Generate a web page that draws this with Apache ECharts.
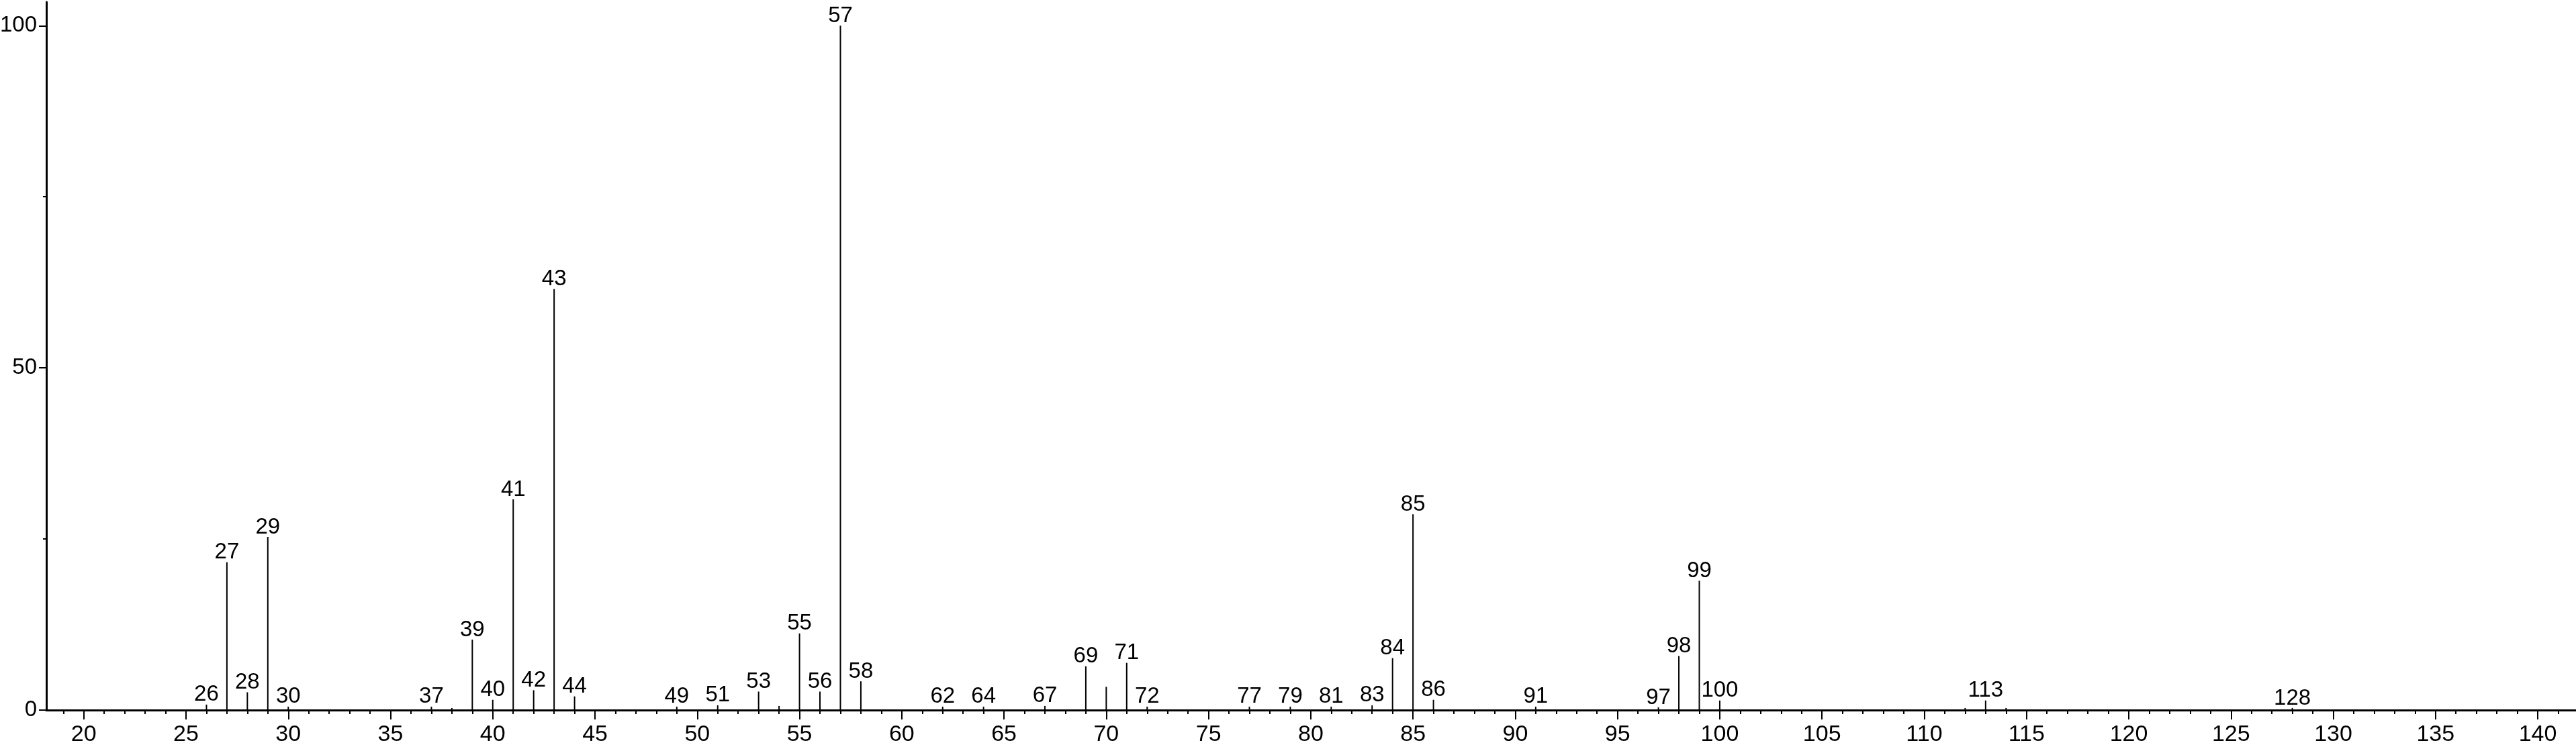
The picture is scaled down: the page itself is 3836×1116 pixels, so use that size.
<!DOCTYPE html>
<html>
<head>
<meta charset="utf-8">
<script src="https://cdn.jsdelivr.net/npm/echarts@6/dist/echarts.min.js"></script>
<style>
html,body{margin:0;padding:0;background:#fff;}
#chart{width:3836px;height:1116px;}
</style>
</head>
<body>
<div id="chart"></div>
<script>
// m/z values of the peaks
const mz = [26,27,28,29,30,37,38,39,40,41,42,43,44,49,51,53,54,55,56,57,58,62,64,67,69,70,71,72,77,79,81,83,84,85,86,91,97,98,99,100,112,113,114,128];
// relative intensities (%)
const intensity = [0.8,21.6,2.6,25.3,0.5,0.5,0.3,10.3,1.5,30.8,2.9,61.5,2.0,0.5,0.7,2.7,0.6,11.2,2.7,100,4.2,0.5,0.5,0.6,6.4,3.4,6.9,0.5,0.5,0.5,0.5,0.7,7.6,28.6,1.5,0.5,0.4,7.9,18.9,1.4,0.3,1.4,0.3,0.3];
// peaks carrying a label
const labeled = [26,27,28,29,30,37,39,40,41,42,43,44,49,51,53,55,56,57,58,62,64,67,69,71,72,77,79,81,83,84,85,86,91,97,98,99,100,113,128];
// axis tick values
const xMajorTicks = [20,25,30,35,40,45,50,55,60,65,70,75,80,85,90,95,100,105,110,115,120,125,130,135,140];
const xMinorTicks = [19,21,22,23,24,26,27,28,29,31,32,33,34,36,37,38,39,41,42,43,44,46,47,48,49,51,52,53,54,56,57,58,59,61,62,63,64,66,67,68,69,71,72,73,74,76,77,78,79,81,82,83,84,86,87,88,89,91,92,93,94,96,97,98,99,101,102,103,104,106,107,108,109,111,112,113,114,116,117,118,119,121,122,123,124,126,127,128,129,131,132,133,134,136,137,138,139,141];
const yMajorTicks = [0,50,100];
const yMinorTicks = [25,75];

const FONT = 'Liberation Sans, Arial, sans-serif';
const data = mz.map((m, i) => ({
  value: [m, intensity[i]],
  label: { show: labeled.indexOf(m) >= 0 }
}));

const chart = echarts.init(document.getElementById('chart'), null, {renderer: 'canvas'});
const xMin = 18.17, xMax = 141.87, yMax = 103.46;
chart.setOption({
  animation: false,
  backgroundColor: '#ffffff',
  grid: { left: 69, right: 0, top: 3, bottom: 58, containLabel: false, outerBoundsMode: 'none' },
  xAxis: [
    {
      type: 'value', min: xMin, max: xMax, position: 'bottom',
      axisLine: { show: true, lineStyle: { color: '#000', width: 3 } },
      axisTick: { show: true, customValues: xMajorTicks, length: 14, lineStyle: { color: '#000', width: 2 } },
      axisLabel: { show: true, customValues: xMajorTicks, margin: 20, fontSize: 34, fontFamily: FONT, color: '#000' },
      splitLine: { show: false }
    },
    {
      type: 'value', min: xMin, max: xMax, position: 'bottom',
      axisLine: { show: false },
      axisTick: { show: true, customValues: xMinorTicks, length: 6, lineStyle: { color: '#000', width: 2 } },
      axisLabel: { show: false },
      splitLine: { show: false }
    }
  ],
  yAxis: [
    {
      type: 'value', min: 0, max: yMax, position: 'left',
      axisLine: { show: true, lineStyle: { color: '#000', width: 3 } },
      axisTick: { show: true, customValues: yMajorTicks, length: 11, lineStyle: { color: '#000', width: 2 } },
      axisLabel: { show: true, customValues: yMajorTicks, margin: 14, fontSize: 33, fontFamily: FONT, color: '#000' },
      splitLine: { show: false }
    },
    {
      type: 'value', min: 0, max: yMax, position: 'left',
      axisLine: { show: false },
      axisTick: { show: true, customValues: yMinorTicks, length: 5, lineStyle: { color: '#000', width: 2 } },
      axisLabel: { show: false },
      splitLine: { show: false }
    }
  ],
  series: [{
    type: 'bar',
    xAxisIndex: 0, yAxisIndex: 0,
    barWidth: 2,
    itemStyle: { color: '#000' },
    label: { position: 'top', distance: -2, fontSize: 33, fontFamily: FONT, color: '#000',
      formatter: p => String(p.value[0]) },
    data: data
  }]
});
</script>
</body>
</html>
